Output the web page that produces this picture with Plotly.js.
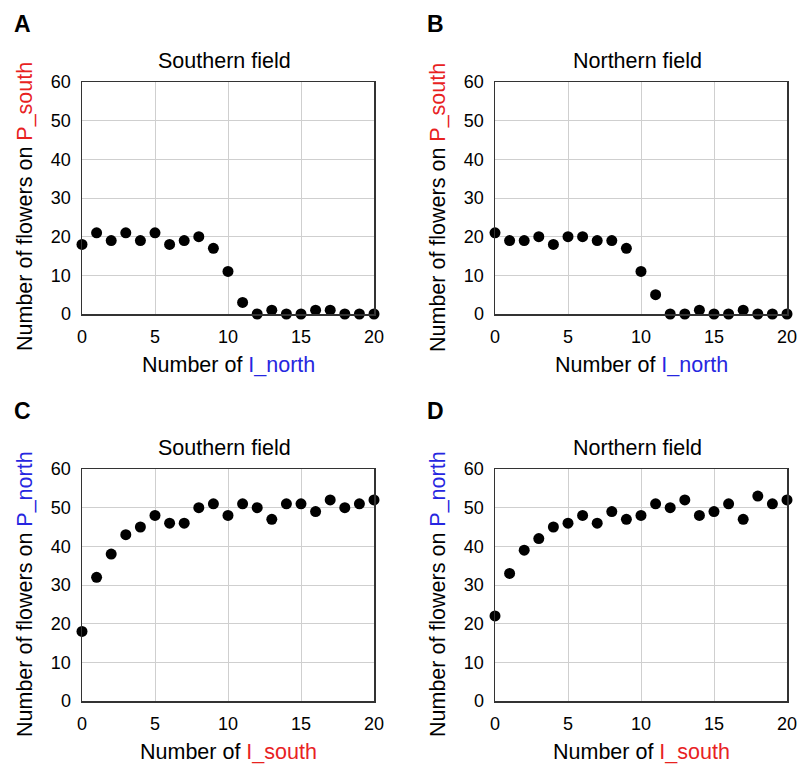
<!DOCTYPE html>
<html>
<head>
<meta charset="utf-8">
<script src="https://cdn.plot.ly/plotly-3.0.1.min.js"></script>
<style>html,body{margin:0;padding:0;background:#fff;}#chart{width:803px;height:767px;}</style>
</head>
<body>
<div id="chart"></div>
<script>
// Number of invaders (x) for every panel
const counts = [0,1,2,3,4,5,6,7,8,9,10,11,12,13,14,15,16,17,18,19,20];
// A: Southern field, flowers on P_south vs number of I_north
const southFieldPSouth = [18,21,19,21,19,21,18,19,20,17,11,3,0,1,0,0,1,1,0,0,0];
// B: Northern field, flowers on P_south vs number of I_north
const northFieldPSouth = [21,19,19,20,18,20,20,19,19,17,11,5,0,0,1,0,0,1,0,0,0];
// C: Southern field, flowers on P_north vs number of I_south
const southFieldPNorth = [18,32,38,43,45,48,46,46,50,51,48,51,50,47,51,51,49,52,50,51,52];
// D: Northern field, flowers on P_north vs number of I_south
const northFieldPNorth = [22,33,39,42,45,46,48,46,49,47,48,51,50,52,48,49,51,47,53,51,52];

const panelLetters = ['A','B','C','D'];
const panelTitles = ['Southern field','Northern field','Southern field','Northern field'];
const xInvader = ['I_north','I_north','I_south','I_south'];
const yPlant = ['P_south','P_south','P_north','P_north'];
const xTicks = [0,5,10,15,20];
const yTicks = [0,10,20,30,40,50,60];

const RED = '#e8221f', BLUE = '#2626e0';
const colorOf = s => s.indexOf('south') >= 0 ? RED : BLUE;
const FONT = 'Liberation Sans, Arial, sans-serif';
const W = 803, H = 767;

const series = [southFieldPSouth, northFieldPSouth, southFieldPNorth, northFieldPNorth];
// pixel geometry of plot areas
const xDom = [[82,374],[495,787],[82,374],[495,787]];
const yDom = [[82,314],[82,314],[469,701],[469,701]];

const traces = series.map((ys, i) => ({
  x: counts, y: ys, type: 'scatter', mode: 'markers',
  xaxis: i === 0 ? 'x' : 'x' + (i + 1),
  yaxis: i === 0 ? 'y' : 'y' + (i + 1),
  marker: {color: '#000', size: 11},
  cliponaxis: false, showlegend: false, hoverinfo: 'x+y'
}));

const layout = {
  width: W, height: H,
  margin: {l: 0, r: 0, t: 0, b: 0},
  paper_bgcolor: '#fff', plot_bgcolor: '#fff',
  font: {family: FONT, color: '#000', size: 18},
  showlegend: false,
  annotations: []
};

const px = x => x / W;
const py = y => 1 - y / H;

for (let i = 0; i < 4; i++) {
  const xa = i === 0 ? 'xaxis' : 'xaxis' + (i + 1);
  const ya = i === 0 ? 'yaxis' : 'yaxis' + (i + 1);
  const yRef = i === 0 ? 'y' : 'y' + (i + 1);
  const xRef = i === 0 ? 'x' : 'x' + (i + 1);
  layout[xa] = {
    domain: [px(xDom[i][0]), px(xDom[i][1])], anchor: yRef,
    range: [0, 20], tickvals: xTicks, ticktext: xTicks.map(String),
    showgrid: true, gridcolor: '#cfcfcf', gridwidth: 1,
    showline: true, linecolor: '#333', linewidth: 1.5, mirror: true,
    zeroline: false, ticks: '', ticklabelstandoff: 6,
    tickfont: {size: 18, family: FONT, color: '#000'}, fixedrange: true
  };
  layout[ya] = {
    domain: [py(yDom[i][1]), py(yDom[i][0])], anchor: xRef,
    range: [0, 60], tickvals: yTicks, ticktext: yTicks.map(String),
    showgrid: true, gridcolor: '#cfcfcf', gridwidth: 1,
    showline: true, linecolor: '#333', linewidth: 1.5, mirror: true,
    zeroline: false, ticks: '', ticklabelstandoff: 6,
    tickfont: {size: 18, family: FONT, color: '#000'}, fixedrange: true
  };
  const cx = (xDom[i][0] + xDom[i][1]) / 2;
  const top = yDom[i][0], bot = yDom[i][1];
  const colX = xDom[i][0] - 82;
  // panel letter
  layout.annotations.push({
    xref: 'paper', yref: 'paper', x: px(colX + 12), y: py(top - 58),
    xanchor: 'left', yanchor: 'middle', showarrow: false,
    text: '<b>' + panelLetters[i] + '</b>', font: {size: 23, family: FONT, color: '#000'}
  });
  // subplot title
  layout.annotations.push({
    xref: 'paper', yref: 'paper', x: px(cx - 4), y: py(top - 21),
    xanchor: 'center', yanchor: 'middle', showarrow: false,
    text: panelTitles[i], font: {size: 21.5, family: FONT, color: '#000'}
  });
  // x axis title
  layout.annotations.push({
    xref: 'paper', yref: 'paper', x: px(cx), y: py(bot + 51),
    xanchor: 'center', yanchor: 'middle', showarrow: false,
    text: 'Number of <span style="color:' + colorOf(xInvader[i]) + '">' + xInvader[i] + '</span>',
    font: {size: 21.5, family: FONT, color: '#000'}
  });
  // y axis title
  layout.annotations.push({
    xref: 'paper', yref: 'paper', x: px(colX + 25), y: py((top + bot) / 2 + 9),
    xanchor: 'center', yanchor: 'middle', showarrow: false, textangle: -90,
    text: 'Number of flowers on <span style="color:' + colorOf(yPlant[i]) + '">' + yPlant[i] + '</span>',
    font: {size: 21.5, family: FONT, color: '#000'}
  });
}

Plotly.newPlot('chart', traces, layout, {displayModeBar: false, staticPlot: true});
</script>
</body>
</html>
